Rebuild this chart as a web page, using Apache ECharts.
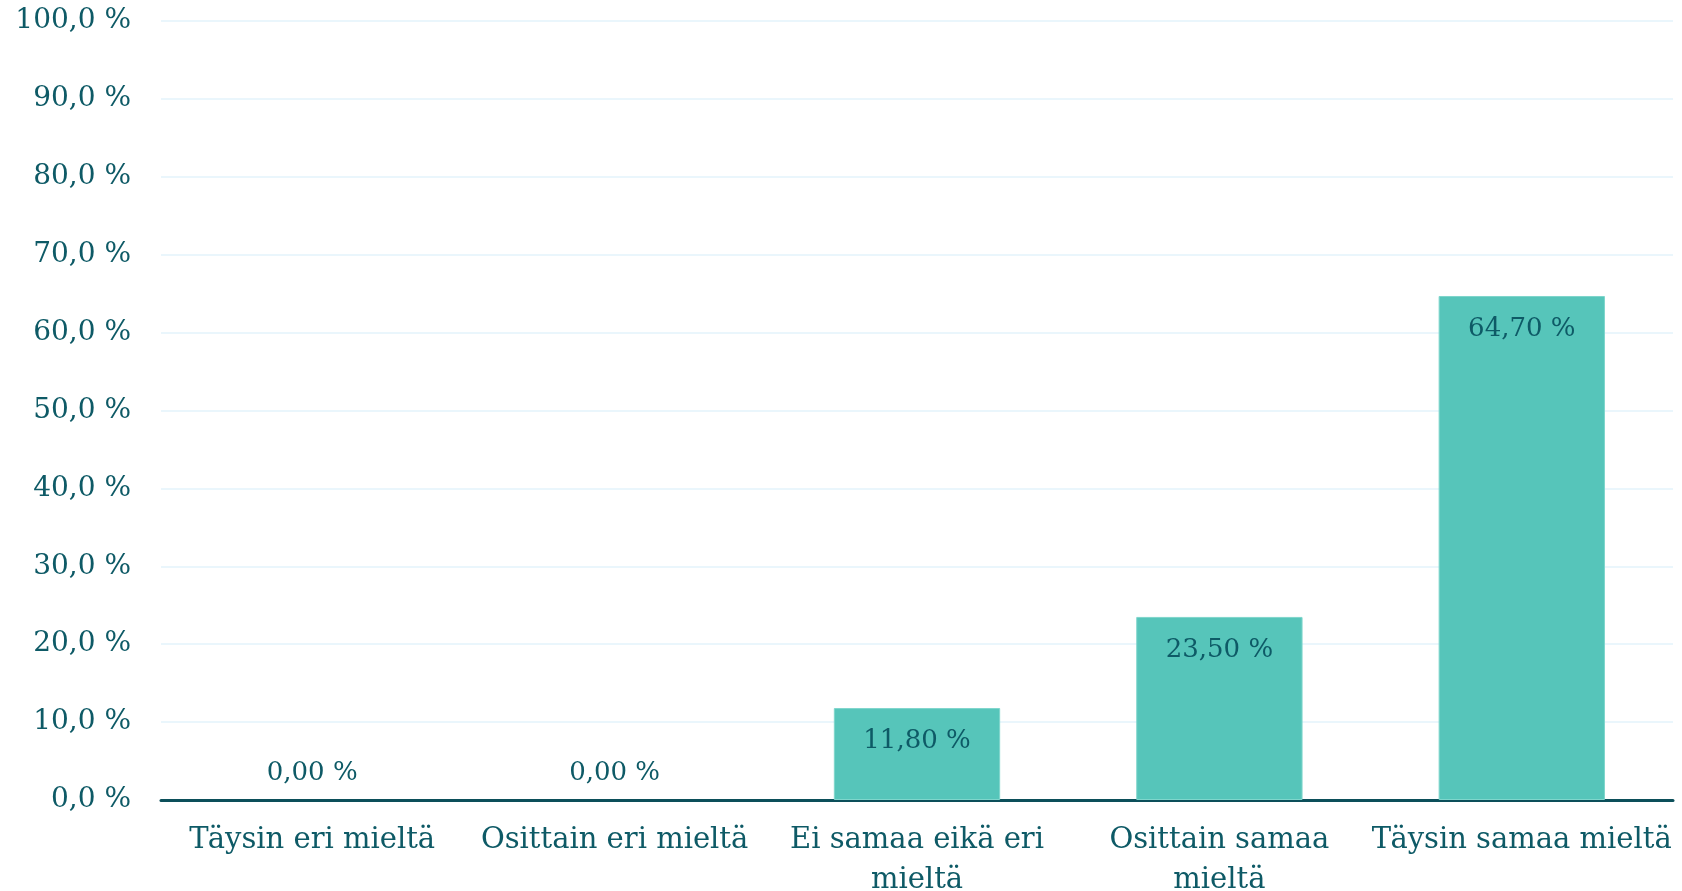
<!DOCTYPE html>
<html>
<head>
<meta charset="utf-8">
<script src="https://cdn.jsdelivr.net/npm/echarts@6/dist/echarts.min.js"></script>
<style>
html,body{margin:0;padding:0;background:#fff;}
#c{width:1682px;height:891px;}
</style>
</head>
<body>
<div id="c"></div>
<script>
const categories = ["Täysin eri mieltä", "Osittain eri mieltä", "Ei samaa eikä eri\nmieltä", "Osittain samaa\nmieltä", "Täysin samaa mieltä"];
const values = [0.00, 0.00, 11.80, 23.50, 64.70];
const yTicks = { min: 0, max: 100, interval: 10 };

const textColor = "#0e5a66";
const fontFamily = "DejaVu Serif";
const fmt = v => v.toFixed(2).replace(".", ",") + " %";

const chart = echarts.init(document.getElementById("c"), null, { renderer: "canvas" });
chart.setOption({
  animation: false,
  grid: { left: 161, right: 9, top: 21, bottom: 91, containLabel: false, outerBoundsMode: "none" },
  xAxis: {
    type: "category",
    data: categories,
    axisLine: { lineStyle: { color: "#0c4f5a", width: 3 } },
    axisTick: { show: false },
    axisLabel: { color: textColor, fontFamily, fontSize: 29, lineHeight: 40, margin: 20, interval: 0 }
  },
  yAxis: {
    type: "value",
    min: yTicks.min, max: yTicks.max, interval: yTicks.interval,
    axisLine: { show: false },
    axisTick: { show: false },
    splitLine: { lineStyle: { color: "#eaf6fc", width: 2 } },
    axisLabel: { color: textColor, fontFamily, fontSize: 28, margin: 30,
      formatter: v => v.toFixed(1).replace(".", ",") + " %" }
  },
  series: [{
    type: "bar",
    barWidth: "55%",
    data: values.map(v => v === 0
      ? { value: v, itemStyle: { borderWidth: 0 }, label: { position: "top", distance: 14 } }
      : v),
    itemStyle: { color: "#56c5ba", borderColor: "#7fd6cc", borderWidth: 1 },
    label: {
      show: true, position: "insideTop", distance: 20,
      color: textColor, fontFamily, fontSize: 26,
      formatter: p => fmt(p.value)
    }
  }]
});
</script>
</body>
</html>
